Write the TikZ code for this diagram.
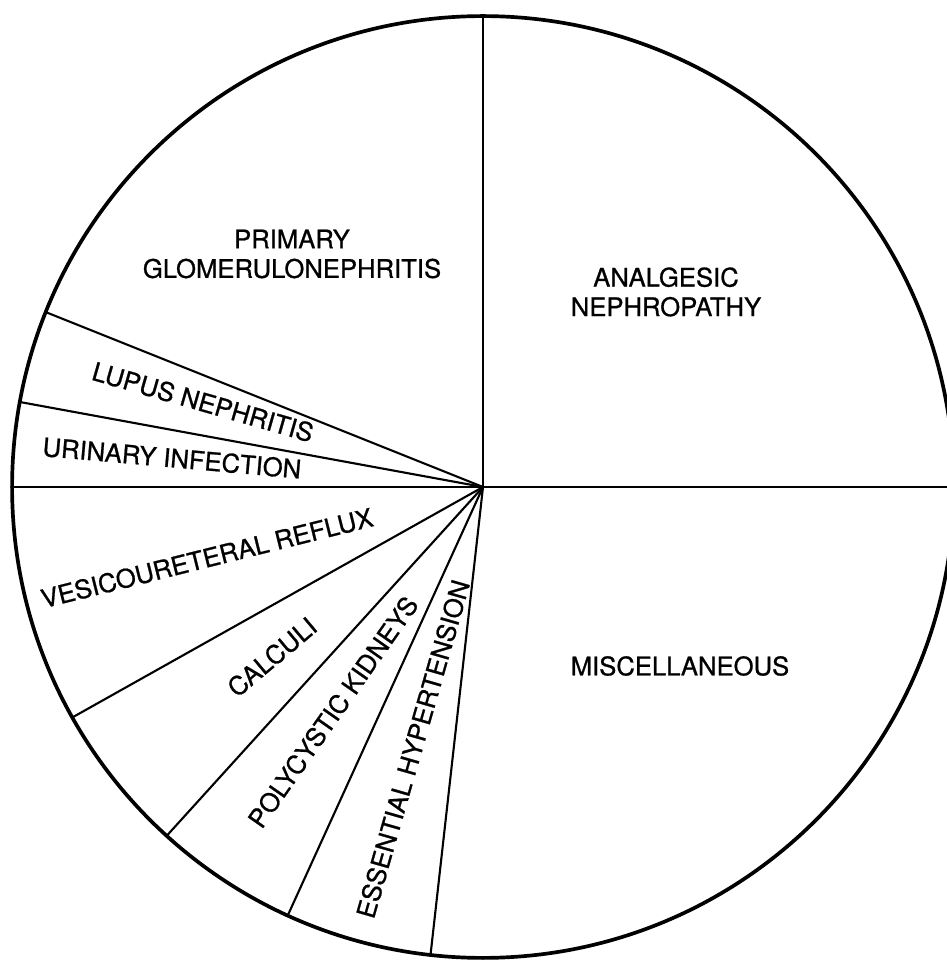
\documentclass[tikz,border=0pt]{standalone}
\usepackage{fontspec}
\setmainfont{TeX Gyre Heros}[FakeBold=0.8]
\begin{document}
\begin{tikzpicture}[x=0.02cm,y=0.02cm,
  rim/.style={line width=2.1pt},
  spoke/.style={line width=1.2pt},
  lbl/.style={font=\fontsize{14.6}{16.8}\selectfont, inner sep=0pt, align=center}]
\useasboundingbox (0,0) rectangle (947,961);
\clip (0,0) rectangle (947,961);
\coordinate (O) at (483,474);
% outer rim
\draw[rim] (O) circle[radius=9.42cm];
% sector boundaries
\foreach \a/\n in {90/top,0/right,180/left,158.2/lupA,169.6/lupB,209.3/vesB,227.8/calB,245.5/polB,263.6/essB}
  \coordinate (\n) at ([shift={(\a:471)}]O);
\foreach \n in {top,right,left,lupA,lupB,vesB,calB,polB,essB}
  \draw[spoke] (O) -- (\n);
% sector labels
\node[lbl] (pg) at (292,707) {PRIMARY\\GLOMERULONEPHRITIS};
\node[lbl] (an) at (666,669) {ANALGESIC\\NEPHROPATHY};
\node[lbl] (mi) at (680,295) {MISCELLANEOUS};
\node[lbl, rotate=-16] (ln) at (203,559) {LUPUS NEPHRITIS};
\node[lbl, rotate=-5] (ui) at (172,503) {URINARY INFECTION};
\node[lbl, rotate=14] (vr) at (207,403) {VESICOURETERAL REFLUX};
\node[lbl, rotate=40] (ca) at (272,304) {CALCULI};
\node[lbl, rotate=55] (pk) at (333,249) {POLYCYSTIC KIDNEYS};
\node[lbl, rotate=74] (eh) at (413,212) {ESSENTIAL HYPERTENSION};
\end{tikzpicture}
\end{document}
